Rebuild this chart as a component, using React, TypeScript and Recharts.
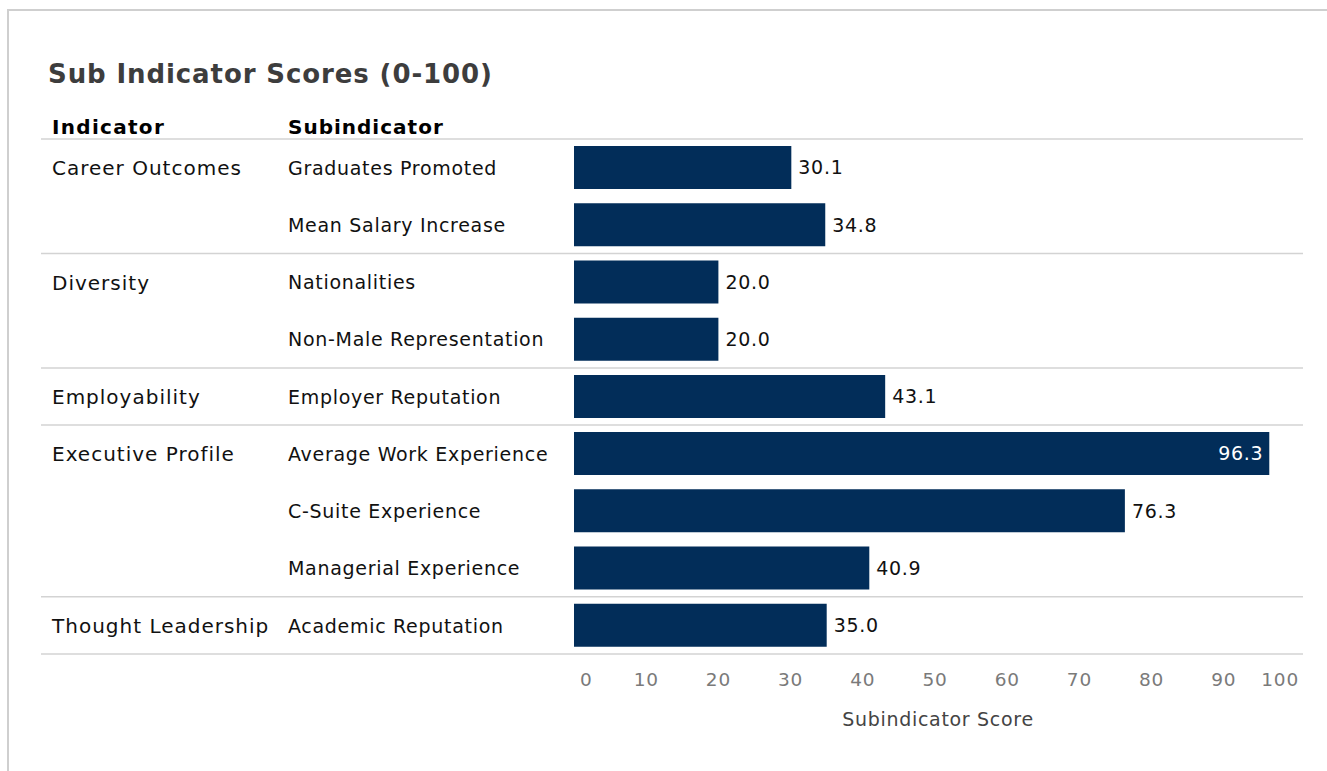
import { BarChart, Bar, XAxis, YAxis, LabelList } from 'recharts'

const indicators = [
  'Career Outcomes',
  'Career Outcomes',
  'Diversity',
  'Diversity',
  'Employability',
  'Executive Profile',
  'Executive Profile',
  'Executive Profile',
  'Thought Leadership',
]

const subindicators = [
  'Graduates Promoted',
  'Mean Salary Increase',
  'Nationalities',
  'Non-Male Representation',
  'Employer Reputation',
  'Average Work Experience',
  'C-Suite Experience',
  'Managerial Experience',
  'Academic Reputation',
]

const scores = [30.1, 34.8, 20.0, 20.0, 43.1, 96.3, 76.3, 40.9, 35.0]

const xTicks = [0, 10, 20, 30, 40, 50, 60, 70, 80, 90, 100]

const data = subindicators.map((name, i) => ({
  name,
  indicator: indicators[i],
  score: scores[i],
}))

const W = 1327
const H = 771
const MARGIN = { top: 139, right: 31, bottom: 37, left: 0 }
const X_AXIS_H = 80
const BAND = (H - MARGIN.top - MARGIN.bottom - X_AXIS_H) / data.length
const FONT = '"DejaVu Sans", Verdana, sans-serif'
const BAR_COLOR = '#022d59'
const RULE = '#d3d3d3'

// draws both text columns plus the row separators
function RowTick(props: any) {
  const { y, index } = props
  const row = data[index]
  const firstOfGroup = index === 0 || data[index - 1].indicator !== row.indicator
  const last = index === data.length - 1
  return (
    <g>
      {firstOfGroup && (
        <line x1={41} x2={1303} y1={y - BAND / 2} y2={y - BAND / 2} stroke={RULE} strokeWidth={1.5} />
      )}
      {last && (
        <line x1={41} x2={1303} y1={y + BAND / 2} y2={y + BAND / 2} stroke={RULE} strokeWidth={1.5} />
      )}
      {firstOfGroup && (
        <text x={52} y={y} dy="0.38em" fontSize={20} letterSpacing={1} fill="#111" fontFamily={FONT}>
          {row.indicator}
        </text>
      )}
      <text x={288} y={y} dy="0.38em" fontSize={19} letterSpacing={0.7} fill="#111" fontFamily={FONT}>
        {row.name}
      </text>
    </g>
  )
}

function ScoreTick(props: any) {
  const { x, y, payload } = props
  const v = payload.value
  let anchor: 'start' | 'middle' | 'end' = 'middle'
  let dx = 0
  if (v === xTicks[0]) {
    anchor = 'start'
    dx = 6
  } else if (v === xTicks[xTicks.length - 1]) {
    anchor = 'end'
    dx = 3
  }
  return (
    <text
      x={x + dx}
      y={y}
      dy={24}
      textAnchor={anchor}
      fontSize={18.5}
      letterSpacing={0.8}
      fill="#7a7a7a"
      fontFamily={FONT}
    >
      {v}
    </text>
  )
}

function ValueLabel(props: any) {
  const { x, y, width, height, value } = props
  const inside = value > 90
  return (
    <text
      x={inside ? x + width - 6 : x + width + 7}
      y={y + height / 2}
      dy="0.36em"
      textAnchor={inside ? 'end' : 'start'}
      fontSize={19}
      letterSpacing={0.7}
      fill={inside ? '#ffffff' : '#111'}
      fontFamily={FONT}
    >
      {Number(value).toFixed(1)}
    </text>
  )
}

export default function App() {
  return (
    <div style={{ position: 'fixed', left: 0, top: 0, width: W, height: H, background: '#fff', fontFamily: FONT }}>
      {/* frame */}
      <div
        style={{
          position: 'absolute',
          left: 7,
          top: 9,
          width: W,
          height: H,
          borderTop: '2px solid #cfcfcf',
          borderLeft: '2px solid #cfcfcf',
        }}
      />
      <div
        style={{
          position: 'absolute',
          left: 48,
          top: 59,
          fontSize: 26,
          letterSpacing: 0.9,
          fontWeight: 'bold',
          color: '#3d3d3d',
          whiteSpace: 'nowrap',
        }}
      >
        Sub Indicator Scores (0-100)
      </div>
      <div
        style={{
          position: 'absolute',
          left: 52,
          top: 115,
          fontSize: 20,
          letterSpacing: 1.3,
          fontWeight: 'bold',
          color: '#000',
        }}
      >
        Indicator
      </div>
      <div
        style={{
          position: 'absolute',
          left: 288,
          top: 115,
          fontSize: 20,
          letterSpacing: 1,
          fontWeight: 'bold',
          color: '#000',
        }}
      >
        Subindicator
      </div>
      <div style={{ position: 'absolute', left: 0, top: 0 }}>
        <BarChart width={W} height={H} data={data} layout="vertical" margin={MARGIN}>
          <XAxis
            type="number"
            domain={[0, 100]}
            ticks={xTicks}
            axisLine={false}
            tickLine={false}
            height={X_AXIS_H}
            tick={<ScoreTick />}
            interval={0}
            label={{
              value: 'Subindicator Score',
              position: 'insideBottom',
              offset: 8,
              dx: 3,
              fill: '#444',
              fontSize: 19,
              letterSpacing: 0.7,
              fontFamily: FONT,
            }}
          />
          <YAxis
            type="category"
            dataKey="name"
            width={574}
            axisLine={false}
            tickLine={false}
            interval={0}
            tick={<RowTick />}
          />
          <Bar dataKey="score" fill={BAR_COLOR} barSize={43} isAnimationActive={false}>
            <LabelList dataKey="score" content={<ValueLabel />} />
          </Bar>
        </BarChart>
      </div>
    </div>
  )
}
